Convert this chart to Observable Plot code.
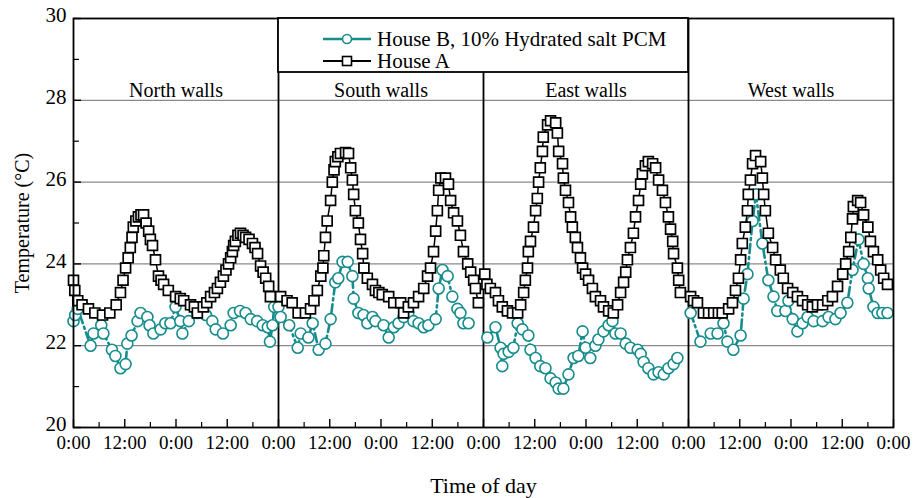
<!DOCTYPE html>
<html><head><meta charset="utf-8">
<script src="https://cdn.jsdelivr.net/npm/d3@7"></script>
<script src="https://cdn.jsdelivr.net/npm/@observablehq/plot@0.6"></script>
<style>body{margin:0;background:#fff;} #chart{width:917px;height:498px;}</style>
</head><body><div id="chart"></div>
<script>
// Panels (each panel = 48 hours)
const panelTitles = ["North walls", "South walls", "East walls", "West walls"];
const seriesNames = ["House B, 10% Hydrated salt PCM", "House A"];

// [hour within panel, temperature °C]
const northA = [[0,23.6],[0.3,23.35],[1,23.1],[2,23.0],[3.5,22.9],[5,22.8],[6.8,22.75],[8.5,22.8],[10,23.0],[11,23.3],[11.6,23.6],[12.2,23.9],[12.8,24.15],[13.3,24.4],[13.7,24.65],[14,24.9],[14.6,25.05],[15.2,25.15],[15.8,25.2],[16.4,25.2],[17,25.0],[17.6,24.8],[18,24.6],[18.5,24.45],[19.2,24.1],[19.9,23.7],[20.5,23.6],[21.1,23.5],[22.2,23.35],[23.9,23.2],[25,23.15],[25.8,23.1],[27.4,23.0],[28.3,22.95],[29,22.8],[30.4,22.95],[31.2,23.05],[32.1,23.2],[33,23.3],[33.7,23.4],[34.4,23.55],[35.1,23.7],[35.7,23.85],[36.3,24.0],[36.8,24.15],[37.2,24.3],[37.5,24.45],[37.9,24.55],[38.5,24.7],[39.1,24.75],[39.7,24.7],[40.3,24.65],[41.1,24.6],[41.9,24.5],[42.5,24.4],[43.1,24.25],[43.8,23.95],[44.4,23.8],[45,23.65],[45.7,23.45],[46.1,23.2]];
const northB = [[0,22.6],[0.4,22.75],[1,22.9],[4,22.0],[4.7,22.3],[6.5,22.5],[7,22.3],[9,21.9],[9.8,21.75],[11,21.45],[12.2,21.55],[12.6,22.05],[13.6,22.25],[15,22.6],[15.7,22.8],[17.3,22.7],[17.8,22.5],[18.7,22.3],[20.4,22.4],[21.5,22.55],[22.7,22.55],[23.9,22.95],[25,22.6],[25.5,22.3],[27,22.6],[29,22.8],[31,22.75],[32.5,22.6],[33.3,22.4],[35,22.3],[36.8,22.5],[37.5,22.8],[39,22.85],[40.3,22.8],[41.5,22.65],[43,22.6],[44.3,22.5],[45.5,22.45],[46,22.1],[46.6,22.5],[47,22.95]];
const southA = [[0.5,23.2],[2,23.1],[3.2,23.05],[4.6,22.8],[6.3,22.8],[7.5,22.9],[8.3,23.1],[9.1,23.35],[9.9,23.7],[10.4,23.9],[10.6,24.2],[11,24.65],[11.4,25.05],[12.2,25.55],[12.6,26.0],[13,26.3],[13.3,26.5],[13.9,26.62],[14.5,26.7],[15.7,26.72],[16.4,26.7],[16.9,26.35],[17.3,26.05],[17.6,25.7],[18,25.3],[18.7,25.0],[19.2,24.6],[19.7,24.25],[20,23.9],[20.8,23.65],[22,23.5],[22.7,23.35],[23.5,23.3],[24.3,23.25],[25.8,23.2],[27,23.05],[28.6,23.05],[29.3,22.8],[30.4,22.95],[31.6,23.05],[32.8,23.2],[34,23.4],[34.9,23.7],[35.6,23.9],[36.3,24.3],[36.8,24.8],[37.2,25.3],[37.5,25.8],[38,26.1],[39.1,26.1],[39.8,25.95],[40.3,25.55],[41,25.25],[41.9,25.05],[42.6,24.7],[43.3,24.3],[44.3,24.0],[45,23.8],[45.7,23.6],[46.1,23.4],[46.8,23.05]];
const southB = [[0,22.95],[0.5,22.7],[2.5,22.5],[4.5,21.95],[5.2,22.3],[7,22.2],[8,22.55],[9.4,21.9],[11,22.05],[12.2,22.65],[13.3,23.55],[14,23.65],[15,24.05],[16.2,24.05],[17.3,23.7],[17.6,23.15],[18.7,22.8],[19.9,22.75],[20.8,22.55],[22,22.7],[22.7,22.6],[24.6,22.5],[25.8,22.2],[27,22.45],[28.1,22.55],[29.3,22.7],[30.4,22.8],[31.6,22.6],[32.8,22.55],[34,22.45],[35.1,22.5],[36.8,22.65],[37.5,23.4],[38.4,23.85],[39.6,23.7],[40.7,23.2],[41.9,22.9],[42.6,22.8],[43.3,22.55],[44.5,22.55]];
const eastA = [[0.3,23.75],[0.8,23.5],[1.6,23.4],[2.8,23.3],[3.5,23.1],[4.4,22.95],[5.6,22.85],[6.8,22.8],[8,22.8],[8.7,23.0],[9.4,23.3],[9.8,23.6],[10.3,23.9],[10.5,24.3],[11,24.55],[11.7,24.9],[12.2,25.3],[12.6,25.6],[12.9,26.0],[13.3,26.35],[13.8,26.75],[14,27.1],[15,27.4],[15.7,27.5],[16.9,27.45],[17.3,27.2],[17.6,26.75],[18.5,26.45],[18.7,26.1],[19.2,25.8],[19.9,25.5],[20.4,25.15],[20.8,24.9],[21.5,24.65],[22,24.4],[22.7,24.15],[23.2,23.9],[23.9,23.75],[24.6,23.6],[25.5,23.4],[26.2,23.2],[27.4,23.1],[28.1,22.95],[29.3,22.85],[30.4,22.8],[31.4,23.0],[32.1,23.3],[32.8,23.55],[33.3,23.8],[33.7,24.1],[34.4,24.4],[35.1,24.75],[35.6,25.15],[36.3,25.55],[36.8,25.95],[37.2,26.2],[37.9,26.4],[38.6,26.5],[39.6,26.45],[40.3,26.35],[41,26.05],[41.9,25.8],[42.6,25.5],[43.3,25.15],[43.8,24.85],[44.3,24.55],[44.5,24.25],[45.4,23.9],[45.7,23.6],[46.1,23.3]];
const eastB = [[0.9,22.2],[2.8,22.45],[4,21.95],[4.4,21.5],[4.7,21.8],[5.9,21.85],[7,21.95],[8,22.55],[9.1,22.4],[10.5,22.25],[11,21.9],[12.2,21.7],[13.3,21.5],[14.5,21.45],[15.7,21.2],[16.9,21.1],[17.6,20.95],[18.7,20.95],[19.9,21.3],[21.1,21.7],[22.2,21.75],[23.2,22.35],[23.9,21.95],[25,21.7],[26.2,22.0],[26.9,22.15],[28.1,22.35],[29.3,22.5],[30.2,22.6],[30.9,22.3],[32.1,22.3],[33.3,22.05],[34.4,21.95],[36.1,21.9],[36.8,21.8],[37.5,21.6],[38.6,21.45],[39.8,21.3],[41,21.35],[42.2,21.3],[43.3,21.45],[44.5,21.55],[45.4,21.7]];
const westA = [[0.5,23.2],[1.2,23.1],[2.1,23.05],[3.5,22.8],[4.7,22.8],[5.9,22.8],[7,22.8],[7.9,22.8],[9.4,22.9],[10.3,23.05],[11,23.35],[11.7,23.65],[12.2,24.1],[12.6,24.5],[13.3,24.9],[13.8,25.3],[14,25.7],[14.5,26.05],[15,26.45],[15.7,26.65],[16.9,26.5],[17.3,26.1],[17.6,25.7],[18,25.3],[18.7,24.75],[19.7,24.4],[20.4,24.1],[21.5,23.85],[22.2,23.65],[23.2,23.4],[24.4,23.3],[25.5,23.2],[26.7,23.1],[27.9,23.0],[29,22.95],[30.2,23.0],[31.4,23.0],[32.6,23.1],[33.7,23.2],[34.9,23.45],[36.1,23.75],[36.8,24.0],[37.5,24.3],[38,24.65],[38.4,25.1],[38.6,25.4],[39.6,25.55],[40.3,25.5],[41,25.2],[42,24.9],[42.6,24.55],[43.3,24.3],[44.3,24.1],[45,23.85],[45.7,23.65],[46.6,23.5]];
const westB = [[0.5,22.8],[2.8,22.1],[5.2,22.3],[6.8,22.3],[8.2,22.55],[9.1,22.1],[10.5,21.9],[12.2,22.25],[12.9,23.15],[13.8,23.75],[15,25.05],[15.8,25.7],[17.3,24.5],[18.7,23.6],[19.9,23.2],[20.8,22.85],[22.7,22.85],[23.4,23.1],[24.4,22.65],[25.5,22.35],[26.7,22.55],[27.9,22.7],[29.3,22.6],[31.4,22.6],[32.8,22.7],[34.4,22.65],[35.6,22.8],[37.2,23.05],[38.4,23.85],[39.8,24.6],[41,24.0],[42,23.65],[42.2,23.4],[43.3,22.95],[44.3,22.8],[45.4,22.8],[46.6,22.8]];

const xTicks = [0,12,24,36,48,60,72,84,96,108,120,132,144,156,168,180,192];
const xMinorTicks = [6,18,30,42,54,66,78,90,102,114,126,138,150,162,174,186];
const yTicks = [20,22,24,26,28,30];
const yMinorTicks = [21,23,25,27,29];
const gridValues = [22,24,26,28];
const HOURS = 48;

const seriesA = [northA, southA, eastA, westA];
const seriesB = [northB, southB, eastB, westB];
const toRows = (list, s) => list.flatMap((arr, i) => arr.map(([h, v]) => ({x: i * HOURS + h, y: v, key: s + i})));
const rowsA = toRows(seriesA, "A");
const rowsB = toRows(seriesB, "B");
const boundaries = [1, 2, 3].map(i => i * HOURS);
const titles = panelTitles.map((t, i) => ({t, x: i * HOURS + HOURS / 2}));

const W = 917, H = 498, mL = 73, mR = 24, mT = 18, mB = 71;
const innerW = W - mL - mR, innerH = H - mT - mB;
const teal = "#178c8c";
const font = "'Liberation Serif', 'Times New Roman', serif";

const plot = Plot.plot({
  width: W, height: H, marginLeft: mL, marginRight: mR, marginTop: mT, marginBottom: mB,
  style: {fontFamily: font, background: "white", color: "black", overflow: "visible"},
  x: {domain: [0, HOURS * 4]},
  y: {domain: [20, 30]},
  marks: [
    Plot.ruleY(gridValues, {stroke: "#8a8a8a", strokeWidth: 1.2}),
    Plot.ruleX(boundaries, {stroke: "black", strokeWidth: 1.8}),
    Plot.ruleX(xTicks, {insetTop: innerH - 8, stroke: "black", strokeWidth: 1.4}),
    Plot.ruleX(xMinorTicks, {insetTop: innerH - 5, stroke: "black", strokeWidth: 1.2}),
    Plot.ruleY(yTicks, {insetRight: innerW - 8, stroke: "black", strokeWidth: 1.4}),
    Plot.ruleY(yMinorTicks, {insetRight: innerW - 6, stroke: "black", strokeWidth: 1.2}),
    Plot.line(rowsB, {x: "x", y: "y", z: "key", stroke: teal, strokeWidth: 2.6, strokeDasharray: "9,4,2,4"}),
    Plot.dot(rowsB, {x: "x", y: "y", r: 5.5, stroke: teal, fill: "white", strokeWidth: 1.6}),
    Plot.line(rowsA, {x: "x", y: "y", z: "key", stroke: "black", strokeWidth: 1.5}),
    Plot.dot(rowsA, {x: "x", y: "y", symbol: "square", r: 5.6, stroke: "black", fill: "white", strokeWidth: 1.7}),
    Plot.frame({stroke: "black", strokeWidth: 1.8}),
    Plot.axisX({ticks: xTicks, tickFormat: d => (d % 24 === 0 ? "0:00" : "12:00"), tickSize: 0, tickPadding: 8, fontSize: 19, label: null}),
    Plot.axisY({ticks: yTicks, tickSize: 0, tickPadding: 7, fontSize: 21, dy: -3, label: null}),
    Plot.text(["Temperature (°C)"], {frameAnchor: "left", dx: -51, rotate: -90, fontSize: 20, textAnchor: "middle", lineAnchor: "middle"}),
    Plot.text(["Time of day"], {frameAnchor: "bottom", dy: 58, fontSize: 22, textAnchor: "middle", lineAnchor: "middle"}),
    Plot.text(titles, {x: "x", text: "t", frameAnchor: "top", dy: 72, fontSize: 20, textAnchor: "middle", lineAnchor: "middle"})
  ]
});
document.getElementById("chart").appendChild(plot);

// Legend box over the South/East panels
const xs = plot.scale("x");
const xl = xs.apply(boundaries[0]), xr = xs.apply(boundaries[2]);
const svg = d3.select(plot);
const g = svg.append("g").attr("font-family", font).attr("text-anchor", "start");
g.append("rect").attr("x", xl).attr("y", mT).attr("width", xr - xl).attr("height", 54)
  .attr("fill", "white").attr("stroke", "black").attr("stroke-width", 1.8);
const entries = [
  {name: seriesNames[0], color: teal, shape: "circle", y: mT + 21},
  {name: seriesNames[1], color: "black", shape: "square", y: mT + 43}
];
for (const e of entries) {
  const x0 = xl + 45, x1 = xl + 93, xc = (x0 + x1) / 2;
  g.append("line").attr("x1", x0).attr("x2", x1).attr("y1", e.y).attr("y2", e.y)
    .attr("stroke", e.color).attr("stroke-width", e.shape === "circle" ? 2.6 : 2.2);
  if (e.shape === "circle") {
    g.append("circle").attr("cx", xc).attr("cy", e.y).attr("r", 4.5).attr("fill", "white").attr("stroke", e.color).attr("stroke-width", 1.6);
  } else {
    g.append("rect").attr("x", xc - 4.5).attr("y", e.y - 4.5).attr("width", 9).attr("height", 9).attr("fill", "white").attr("stroke", e.color).attr("stroke-width", 1.6);
  }
  g.append("text").attr("x", x1 + 6).attr("y", e.y).attr("dy", "0.35em").attr("text-anchor", "start")
    .attr("font-size", 21).attr("fill", "black").text(e.name);
}
</script>
</body></html>
